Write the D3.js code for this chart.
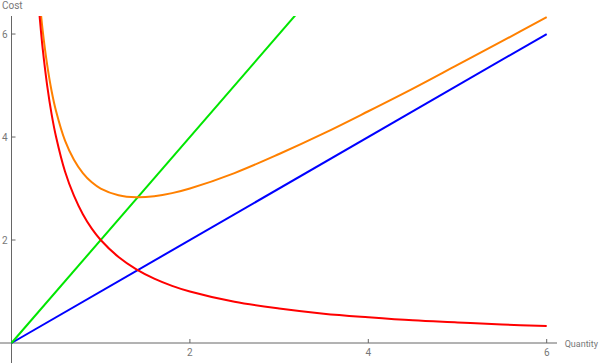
<!DOCTYPE html>
<html><head><meta charset="utf-8">
<script src="https://cdn.jsdelivr.net/npm/d3@7"></script>
<style>body{margin:0;background:#fff}svg{display:block}text{font-family:Roboto,"Open Sans",sans-serif}</style>
</head><body>
<svg id="c" width="600" height="363"></svg>
<script>
const xTicks = [2, 4, 6];
const yTicks = [2, 4, 6];
const xLabel = "Quantity";
const yLabel = "Cost";
// series: [x, y] pairs
const blueLine = [[0, 0], [6, 6]];
const greenLine = [[0, 0], [3.2, 6.4]];
const redCurve = [[0.3,6.67],[0.32,6.25],[0.35,5.71],[0.4,5.0],[0.45,4.44],[0.5,4.0],[0.6,3.33],[0.7,2.86],[0.8,2.5],[0.9,2.22],[1.0,2.0],[1.2,1.67],[1.4,1.43],[1.6,1.25],[1.8,1.11],[2,1.0],[2.5,0.8],[3,0.67],[3.5,0.57],[4,0.5],[4.5,0.44],[5,0.4],[5.5,0.36],[6,0.33]];
const orangeCurve = [[0.3,6.97],[0.32,6.57],[0.35,6.06],[0.4,5.4],[0.45,4.89],[0.5,4.5],[0.6,3.93],[0.7,3.56],[0.8,3.3],[0.9,3.12],[1.0,3.0],[1.2,2.87],[1.4,2.83],[1.6,2.85],[1.8,2.91],[2,3.0],[2.5,3.3],[3,3.67],[3.5,4.07],[4,4.5],[4.5,4.94],[5,5.4],[5.5,5.86],[6,6.33]];
const seriesList = [
  {data: blueLine, color: "rgb(0,0,255)"},
  {data: greenLine, color: "rgb(0,230,0)"},
  {data: orangeCurve, color: "rgb(255,128,0)"},
  {data: redCurve, color: "rgb(255,0,0)"}
];

const svg = d3.select("#c");
const x = d3.scaleLinear().domain([0, 6]).range([11.5, 546.7]);
const y = d3.scaleLinear().domain([0, 6.35]).range([343, 16]);
const axisColor = "#666";

svg.append("clipPath").attr("id","clip").append("rect")
  .attr("x", 0).attr("y", 16).attr("width", 560).attr("height", 347);

// axes lines
svg.append("line").attr("x1", 0).attr("x2", 557).attr("y1", y(0)).attr("y2", y(0))
  .attr("stroke", axisColor).attr("stroke-width", 1);
svg.append("line").attr("x1", x(0)).attr("x2", x(0)).attr("y1", 16).attr("y2", 363)
  .attr("stroke", axisColor).attr("stroke-width", 1);

// x ticks
const xg = svg.append("g");
xTicks.forEach(t => {
  xg.append("line").attr("x1", x(t)).attr("x2", x(t)).attr("y1", y(0)).attr("y2", y(0) - 4)
    .attr("stroke", axisColor);
  xg.append("text").attr("x", x(t)).attr("y", y(0) + 13).attr("text-anchor", "middle")
    .attr("font-size", 10).attr("fill", "#777").text(t);
});
const yg = svg.append("g");
yTicks.forEach(t => {
  yg.append("line").attr("x1", x(0)).attr("x2", x(0) + 4).attr("y1", y(t)).attr("y2", y(t))
    .attr("stroke", axisColor);
  yg.append("text").attr("x", x(0) - 4).attr("y", y(t) + 3.5).attr("text-anchor", "end")
    .attr("font-size", 10).attr("fill", "#777").text(t);
});
svg.append("text").attr("x", 598).attr("y", y(0) + 3.5).attr("text-anchor", "end")
  .attr("font-size", 9).attr("fill", "#777").text(xLabel);
svg.append("text").attr("x", 2).attr("y", 9).attr("font-size", 10).attr("fill", "#777").text(yLabel);

const line = d3.line().x(d => x(d[0])).y(d => y(d[1])).curve(d3.curveCatmullRom);
const pg = svg.append("g").attr("clip-path", "url(#clip)");
seriesList.forEach(s => {
  pg.append("path").attr("d", line(s.data)).attr("fill", "none")
    .attr("stroke", s.color).attr("stroke-width", 2);
});
</script>
</body></html>
